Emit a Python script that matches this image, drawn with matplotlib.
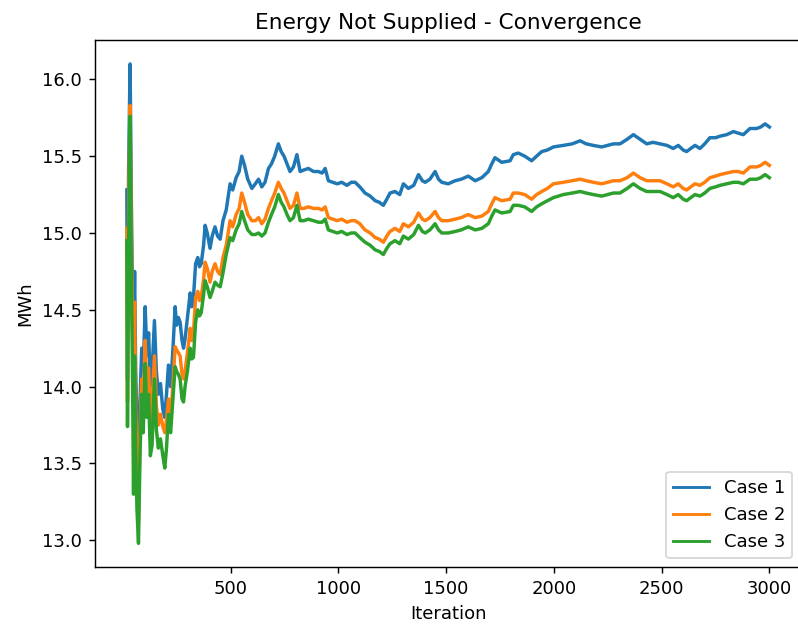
import matplotlib
matplotlib.use("Agg")
import matplotlib.pyplot as plt

# Iteration at which each running value was recorded
iterations = [
    19, 22, 27, 34, 40, 45, 50, 55, 60, 66,
    73, 80, 88, 95, 104, 112, 120, 128, 136, 147,
    156, 165, 175, 186, 195, 203, 212, 222, 233, 243,
    250, 258, 266, 275, 282, 289, 300, 313, 320, 328,
    338, 348, 356, 364, 375, 382, 392, 405, 415, 428,
    440, 452, 465, 480, 498, 510, 526, 540, 552, 565,
    580, 599, 615, 630, 645, 660, 676, 690, 705, 722,
    735, 748, 762, 776, 792, 808, 823, 840, 861, 885,
    908, 925, 939, 954, 975, 995, 1016, 1040, 1060, 1078,
    1100, 1124, 1148, 1171, 1190, 1209, 1225, 1240, 1263, 1285,
    1302, 1325, 1350, 1372, 1390, 1403, 1425, 1449, 1465, 1480,
    1510, 1542, 1570, 1603, 1635, 1666, 1696, 1712, 1727, 1758,
    1797, 1812, 1835, 1865, 1897, 1920, 1944, 1970, 1998, 2044,
    2085, 2122, 2150, 2183, 2222, 2250, 2276, 2307, 2340, 2369,
    2400, 2431, 2460, 2493, 2525, 2554, 2577, 2600, 2616, 2635,
    2655, 2678, 2700, 2724, 2750, 2771, 2802, 2833, 2855, 2879,
    2910, 2941, 2960, 2980, 3000,
]

case1 = [
    15.28, 14.05, 15.40, 16.10, 15.20, 14.60, 14.30, 14.75, 14.10, 13.75,
    13.35, 13.90, 14.25, 14.10, 14.52, 14.20, 14.35, 14.00, 14.10, 14.43,
    14.10, 13.95, 14.02, 13.85, 13.80, 13.95, 14.14, 14.00, 14.25, 14.52,
    14.40, 14.45, 14.42, 14.30, 14.25, 14.31, 14.45, 14.61, 14.52, 14.58,
    14.80, 14.84, 14.78, 14.80, 14.92, 15.05, 15.00, 14.90, 14.98, 15.04,
    14.98, 14.96, 15.08, 15.15, 15.32, 15.28, 15.36, 15.40, 15.50, 15.44,
    15.35, 15.29, 15.32, 15.35, 15.30, 15.33, 15.42, 15.45, 15.50, 15.58,
    15.53, 15.50, 15.45, 15.40, 15.43, 15.51, 15.40, 15.41, 15.42, 15.40,
    15.40, 15.39, 15.42, 15.34, 15.33, 15.32, 15.33, 15.31, 15.33, 15.33,
    15.30, 15.26, 15.24, 15.21, 15.20, 15.18, 15.22, 15.26, 15.27, 15.25,
    15.32, 15.29, 15.31, 15.38, 15.34, 15.33, 15.35, 15.40, 15.35, 15.33,
    15.32, 15.34, 15.35, 15.37, 15.34, 15.36, 15.40, 15.45, 15.49, 15.46,
    15.47, 15.51, 15.52, 15.50, 15.47, 15.50, 15.53, 15.54, 15.56, 15.57,
    15.58, 15.60, 15.58, 15.57, 15.56, 15.57, 15.58, 15.58, 15.61, 15.64,
    15.61, 15.58, 15.59, 15.58, 15.57, 15.55, 15.57, 15.54, 15.53, 15.55,
    15.57, 15.55, 15.58, 15.62, 15.62, 15.63, 15.64, 15.66, 15.65, 15.64,
    15.68, 15.68, 15.69, 15.71, 15.69,
]

case2 = [
    15.03, 13.90, 15.15, 15.83, 14.95, 14.40, 14.05, 14.55, 13.85, 13.50,
    13.12, 13.70, 14.05, 13.88, 14.30, 13.98, 14.12, 13.78, 13.88, 14.20,
    13.88, 13.75, 13.82, 13.74, 13.70, 13.78, 13.92, 13.80, 14.02, 14.26,
    14.24, 14.22, 14.20, 14.08, 14.05, 14.10, 14.22, 14.38, 14.30, 14.35,
    14.58, 14.62, 14.56, 14.58, 14.70, 14.81, 14.77, 14.68, 14.75, 14.80,
    14.75, 14.73, 14.84, 14.92, 15.08, 15.04, 15.12, 15.16, 15.26, 15.20,
    15.12, 15.08, 15.08, 15.10, 15.06, 15.09, 15.16, 15.21, 15.26, 15.33,
    15.29, 15.26, 15.21, 15.16, 15.18, 15.26, 15.16, 15.16, 15.17, 15.16,
    15.16, 15.15, 15.17, 15.10, 15.09, 15.08, 15.09, 15.07, 15.08, 15.08,
    15.06, 15.02, 15.00, 14.97, 14.96, 14.94, 14.98, 15.01, 15.03, 15.01,
    15.06, 15.04, 15.07, 15.13, 15.09, 15.08, 15.10, 15.14, 15.10, 15.08,
    15.08, 15.09, 15.10, 15.12, 15.10, 15.11, 15.14, 15.19, 15.23, 15.21,
    15.22, 15.26, 15.26, 15.25, 15.22, 15.25, 15.27, 15.29, 15.32, 15.33,
    15.34, 15.35, 15.34, 15.33, 15.32, 15.33, 15.34, 15.34, 15.36, 15.39,
    15.36, 15.34, 15.34, 15.34, 15.32, 15.30, 15.32, 15.29, 15.28, 15.30,
    15.32, 15.31, 15.33, 15.36, 15.37, 15.38, 15.39, 15.40, 15.40, 15.39,
    15.43, 15.43, 15.44, 15.46, 15.44,
]

case3 = [
    14.95, 13.74, 14.90, 15.76, 14.70, 14.10, 13.30, 14.20, 13.60, 13.20,
    12.98, 13.55, 13.95, 13.70, 14.15, 13.80, 13.95, 13.55, 13.62, 14.05,
    13.72, 13.60, 13.66, 13.55, 13.47, 13.60, 13.82, 13.70, 13.92, 14.13,
    14.10, 14.08, 14.05, 13.92, 13.90, 14.00, 14.10, 14.25, 14.18, 14.19,
    14.42, 14.50, 14.46, 14.48, 14.60, 14.69, 14.65, 14.58, 14.62, 14.68,
    14.66, 14.65, 14.74, 14.86, 14.97, 14.95, 15.02, 15.06, 15.14, 15.08,
    15.02, 14.99, 14.99, 15.00, 14.98, 15.00, 15.07, 15.12, 15.17, 15.25,
    15.20, 15.17, 15.12, 15.08, 15.10, 15.18, 15.08, 15.08, 15.09, 15.08,
    15.07, 15.07, 15.09, 15.02, 15.01, 15.00, 15.01, 14.99, 15.00, 15.00,
    14.97, 14.94, 14.92, 14.89, 14.88, 14.86, 14.90, 14.93, 14.95, 14.93,
    14.98, 14.96, 14.99, 15.05, 15.01, 15.00, 15.02, 15.06, 15.02, 15.00,
    15.00, 15.01, 15.02, 15.04, 15.02, 15.03, 15.06, 15.11, 15.15, 15.13,
    15.14, 15.18, 15.18, 15.17, 15.14, 15.17, 15.19, 15.21, 15.23, 15.25,
    15.26, 15.27, 15.26, 15.25, 15.24, 15.25, 15.26, 15.26, 15.29, 15.32,
    15.29, 15.27, 15.27, 15.27, 15.25, 15.23, 15.25, 15.22, 15.21, 15.23,
    15.25, 15.24, 15.26, 15.29, 15.30, 15.31, 15.32, 15.33, 15.33, 15.32,
    15.35, 15.35, 15.36, 15.38, 15.36,
]

series_labels = ["Case 1", "Case 2", "Case 3"]
series_colors = ["#1f77b4", "#ff7f0e", "#2ca02c"]

DPI = 130
fig = plt.figure(figsize=(798 / DPI, 630 / DPI), dpi=DPI)
ax = fig.add_axes([0.1187, 0.0995, 0.8857, 0.837])

for vals, lab, col in zip([case1, case2, case3], series_labels, series_colors):
    ax.plot(iterations, vals, color=col, lw=1.9, label=lab)

ax.set_xticks([500, 1000, 1500, 2000, 2500, 3000])
ax.set_yticks([13.0, 13.5, 14.0, 14.5, 15.0, 15.5, 16.0])
ax.set_title("Energy Not Supplied - Convergence", fontsize=12)
ax.set_xlabel("Iteration")
ax.set_ylabel("MWh")

leg = ax.legend(loc="lower right")
for line in leg.get_lines():
    line.set_linewidth(1.6)

fig.savefig("out.png", dpi=DPI)
